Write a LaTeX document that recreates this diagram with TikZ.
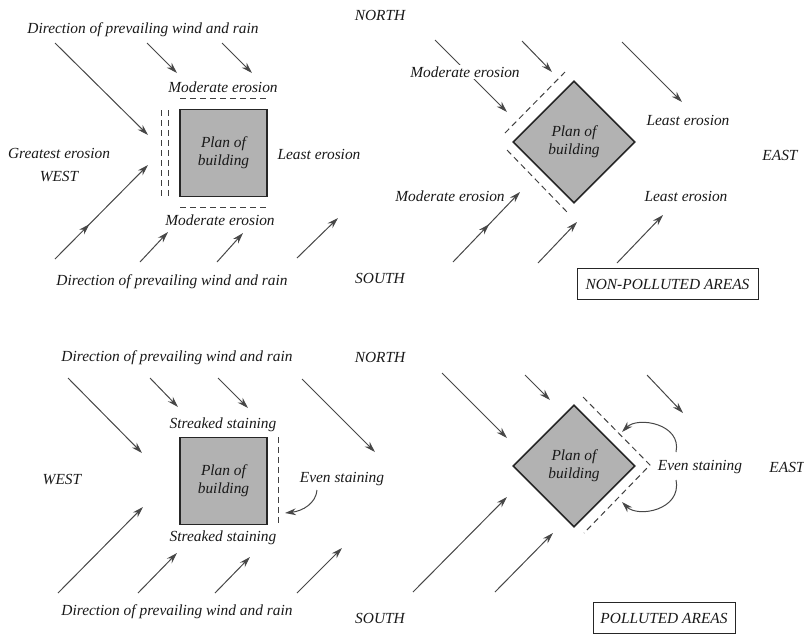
\documentclass[tikz,border=0pt]{standalone}
\usepackage{fontspec}
\setmainfont{Liberation Serif}
\usetikzlibrary{arrows.meta,shapes.geometric,decorations.markings}

\begin{document}
\begin{tikzpicture}[x=0.5pt,y=-0.5pt,
	every node/.style={font=\itshape\fontsize{7.7}{9}\selectfont,text=black!90,inner sep=1pt},
	wind/.style={draw=black!72,line width=0.5pt,-{Stealth[length=5.5pt,width=3.4pt]}},
	midarrow/.style={postaction={decorate},decoration={markings,mark=at position #1 with {\arrow{Stealth[length=5.5pt,width=3.4pt]}}}},
	bldg/.style={draw=black!85,line width=0.8pt,fill=black!30,align=center,inner sep=0pt},
	plan/.style={bldg,rectangle,minimum size=43.5pt},
	planrot/.style={bldg,diamond,minimum size=61pt},
	zone/.style={draw=black!75,line width=0.5pt,dash pattern=on 3pt off 2pt},
	areabox/.style={draw=black!85,line width=0.5pt,minimum height=15.5pt}]
	\useasboundingbox (0,0) rectangle (804,634);

	\node (dirA) at (143,30) {Direction of prevailing wind and rain};
	\node (northA) at (380,15) {NORTH};
	\draw[wind] (55,43) -- (148,135);
	\draw[wind] (147,43) -- (177,73);
	\draw[wind] (222,43) -- (252,73);
	\node (modA) at (223,87) {Moderate erosion};
	\draw[zone] (180,98) -- (267,98);
	\node[plan] (bldgA) at (223.5,153) {Plan of\\building};
	\draw[zone] (161,110) -- (161,197);
	\draw[zone] (168,110) -- (168,197);
	\node (leastA) at (319,154) {Least erosion};
	\node (greatA) at (59,153) {Greatest erosion};
	\node (westA) at (59,177) {WEST};
	\draw[zone] (180,207) -- (267,207);
	\node (modB) at (220,220) {Moderate erosion};
	\draw[wind,midarrow=0.37] (55,259) -- (148,165);
	\draw[wind] (140,262) -- (168,232);
	\draw[wind] (217,262) -- (243,233);
	\draw[wind] (297,258) -- (338,218);
	\node (dirB) at (172,282) {Direction of prevailing wind and rain};
	\node (southA) at (380,278) {SOUTH};

	\draw[wind] (435,40) -- (507,112);
	\node[fill=white] (modC) at (465,72) {Moderate erosion};
	\draw[wind] (522,41) -- (552,72);
	\draw[wind] (622,42) -- (682,102);
	\node[planrot] (bldgB) at (574,142) {Plan of\\building};
	\draw[zone] (505,133) -- (565,72);
	\draw[zone] (507,150) -- (567,212);
	\node (leastB) at (688,120) {Least erosion};
	\node (eastA) at (780,155) {EAST};
	\node (modD) at (450,196) {Moderate erosion};
	\node (leastC) at (686,196) {Least erosion};
	\draw[wind,midarrow=0.54] (453,262) -- (520,192);
	\draw[wind] (538,263) -- (577,222);
	\draw[wind] (617,263) -- (663,215);
	\node[areabox,minimum width=90.5pt] (boxA) at (667.5,284) {NON-POLLUTED AREAS};

	\node (dirC) at (177,358) {Direction of prevailing wind and rain};
	\node (northB) at (380,357) {NORTH};
	\draw[wind] (68,378) -- (142,453);
	\draw[wind] (150,378) -- (178,407);
	\draw[wind] (218,378) -- (248,408);
	\draw[wind] (302,379) -- (375,452);
	\node (streakA) at (223,425) {Streaked staining};
	\node[plan] (bldgC) at (223.5,481) {Plan of\\building};
	\draw[zone] (278,437) -- (278,525);
	\node (evenA) at (342,479) {Even staining};
	\draw[wind] (317,490) .. controls (316,503) and (303,511) .. (285,513);
	\node (streakB) at (223,538) {Streaked staining};
	\node (westB) at (62,480) {WEST};
	\draw[wind] (58,593) -- (143,507);
	\draw[wind] (138,593) -- (177,553);
	\draw[wind] (215,593) -- (250,557);
	\draw[wind] (297,593) -- (342,548);
	\node (dirD) at (177,612) {Direction of prevailing wind and rain};
	\node (southB) at (380,618) {SOUTH};

	\draw[wind] (442,373) -- (507,438);
	\draw[wind] (525,375) -- (550,400);
	\draw[wind] (647,375) -- (683,413);
	\node[planrot] (bldgD) at (574,466) {Plan of\\building};
	\draw[zone] (583,397) -- (650,465) -- (584,533);
	\draw[wind] (676,452) .. controls (682,424) and (638,416) .. (622,432);
	\draw[wind] (676,480) .. controls (682,510) and (638,518) .. (622,502);
	\node (evenB) at (700,467) {Even staining};
	\node (eastB) at (787,467) {EAST};
	\draw[wind] (413,592) -- (507,497);
	\draw[wind] (495,592) -- (553,533);
	\node[areabox,minimum width=71pt] (boxB) at (664,618) {POLLUTED AREAS};
\end{tikzpicture}
\end{document}
